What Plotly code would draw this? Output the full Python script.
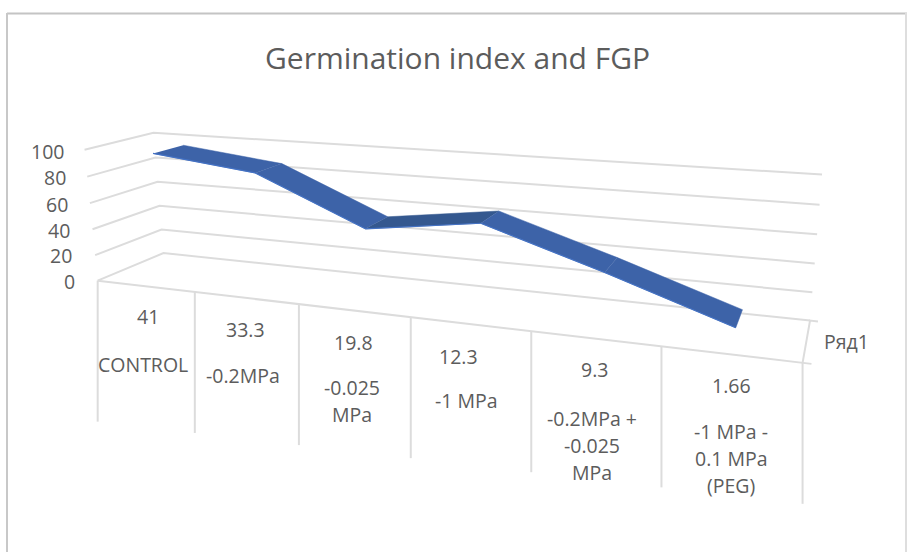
import numpy as np
import plotly.graph_objects as go

# --- data ---
CATEGORIES = ["CONTROL", "-0.2MPa", "-0.025\nMPa", "-1 MPa", "-0.2MPa +\n-0.025\nMPa", "-1 MPa -\n0.1 MPa\n(PEG)"]
GI_LABELS = ["41", "33.3", "19.8", "12.3", "9.3", "1.66"]
FGP_VALUES = [96, 87, 53, 64, 38, 10]
VALUE_TICKS = [0, 20, 40, 60, 80, 100]
SERIES_NAME = "Ряд1"
TITLE = "Germination index and FGP"

# --- layout: calibration of the 3D-look projection (t along axis, d depth, v/100) -> page pixels ---
ANCHORS = [
    ((0, 0, 0), (98, 280)), ((1/6, 0, 0), (195, 292)), ((2/6, 0, 0), (299, 304)),
    ((3/6, 0, 0), (410, 317)), ((4/6, 0, 0), (532, 332)), ((5/6, 0, 0), (662, 347)),
    ((1, 0, 0), (802, 362)), ((0, 1, 0), (163, 253)), ((1, 1, 0), (810, 321)),
    ((0, 1, 1), (154, 133)), ((1, 1, 1), (822, 174)), ((0, 0, 1), (84, 150)),
]


def fit_projection(anchors):
    rows, rhs = [], []
    for (t, d, v), (px, py) in anchors:
        rows.append([t, d, v, 1, 0, 0, 0, 0, -px*t, -px*d, -px*v])
        rhs.append(px)
        rows.append([0, 0, 0, 0, t, d, v, 1, -py*t, -py*d, -py*v])
        rhs.append(py)
    return np.linalg.lstsq(np.array(rows, float), np.array(rhs, float), rcond=None)[0]


M = fit_projection(ANCHORS)


def project(t, d, value):
    v = value / 100
    w = M[8]*t + M[9]*d + M[10]*v + 1
    return (M[0]*t + M[1]*d + M[2]*v + M[3]) / w, (M[4]*t + M[5]*d + M[6]*v + M[7]) / w


GRID = "#dcdcdc"
TEXT = "#5c5c5c"
BLUE = "#3d63a8"
BLUE_DARK = "#34588f"
FONT = "Open Sans"
D_FRONT, D_BACK = 0.27, 0.73
DROP = 141
T_EXT = 1.01
n = len(FGP_VALUES)

fig = go.Figure()


def line(points, color=GRID, width=2):
    fig.add_trace(go.Scatter(x=[p[0] for p in points], y=[p[1] for p in points], mode="lines",
                             line=dict(color=color, width=width), hoverinfo="skip", showlegend=False))


# walls
for v in VALUE_TICKS:
    line([project(0, 0, v), project(0, 1, v), project(1, 1, v)])
# floor, with the short tick stubs of the depth axis
line([project(0, 0, 0), project(T_EXT, 0, 0)])
line([project(1, 0, 0), project(1, 1, 0), project(T_EXT, 1, 0)])
# category separators below the floor
for i in range(n + 1):
    x0, y0 = project(i / n, 0, 0)
    line([(x0, y0), (x0, y0 + DROP)])

# ribbon
for i in range(n - 1):
    t0, t1 = (i + .5) / n, (i + 1.5) / n
    a, b = FGP_VALUES[i], FGP_VALUES[i + 1]
    poly = [project(t0, D_FRONT, a), project(t1, D_FRONT, b), project(t1, D_BACK, b), project(t0, D_BACK, a)]
    fig.add_trace(go.Scatter(x=[p[0] for p in poly], y=[p[1] for p in poly], mode="lines", fill="toself",
                             fillcolor=BLUE_DARK if b > a else BLUE,
                             line=dict(color=BLUE_DARK if b > a else BLUE, width=0.5),
                             hoverinfo="skip", showlegend=False))
    line([poly[0], poly[1]], color="#4472c4", width=1.2)


def label(x, y, text, size=19.5, anchor="center"):
    fig.add_annotation(x=x, y=y, text=text, showarrow=False, xanchor=anchor, yanchor="middle",
                       font=dict(family=FONT, size=size, color=TEXT))


# value axis labels
TICK_RIGHT = [77, 74, 72, 70, 68, 66]
TICK_Y = [281, 255, 230, 204, 177, 151]
for v, x, y in zip(VALUE_TICKS, TICK_RIGHT, TICK_Y):
    label(x, y, str(v), anchor="right")

# category labels
GI_POS = [(148, 316), (245, 329), (353, 342), (458, 356), (594, 369), (731, 385)]
CAT_POS = [(143, 364), (243, 375), (352, 387), (466, 400), (592, 418), (731, 431)]
for gi, cat, gp, cp in zip(GI_LABELS, CATEGORIES, GI_POS, CAT_POS):
    label(gp[0], gp[1], gi)
    for k, txt in enumerate(cat.split("\n")):
        label(cp[0], cp[1] + 27.3 * k, txt)

label(846, 341, SERIES_NAME)
label(457, 57, TITLE, size=30)

fig.update_layout(
    width=907, height=552, margin=dict(l=0, r=0, t=0, b=0),
    paper_bgcolor="white", plot_bgcolor="white", showlegend=False,
    xaxis=dict(range=[0, 907], visible=False, fixedrange=True),
    yaxis=dict(range=[552, 0], visible=False, fixedrange=True),
    shapes=[
        dict(type="line", xref="x", yref="y", x0=7, x1=907, y0=13.5, y1=13.5, line=dict(color="#c4c4c4", width=2)),
        dict(type="line", xref="x", yref="y", x0=7, x1=7, y0=13, y1=552, line=dict(color="#c8c8c8", width=2)),
        dict(type="line", xref="x", yref="y", x0=906, x1=906, y0=13, y1=552, line=dict(color="#dedede", width=2)),
    ],
)
fig.write_html("out.html", config={"displayModeBar": False}, post_script="document.body.style.margin='0';")
